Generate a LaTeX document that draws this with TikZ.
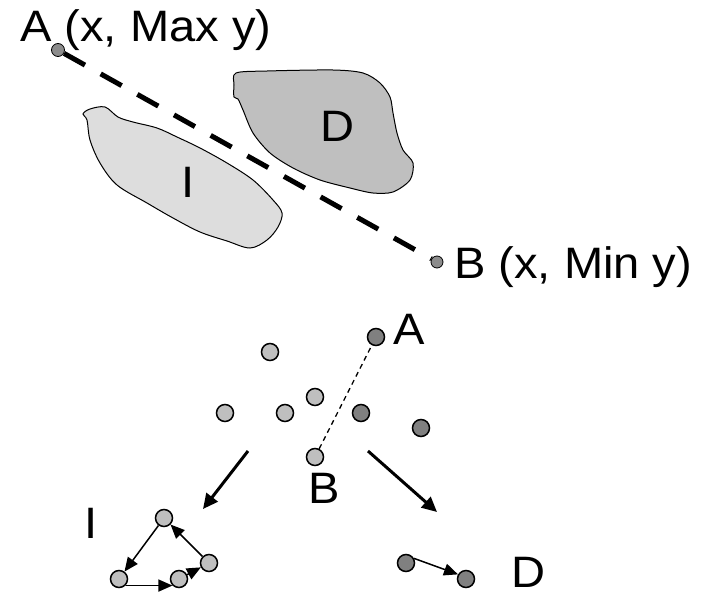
\documentclass[tikz,border=0pt]{standalone}
\usepackage{fontspec}
\setmainfont{Liberation Sans}
\usetikzlibrary{arrows.meta}

\begin{document}
\begin{tikzpicture}[x=1pt, y=-1pt,
    lbl/.style={font=\fontsize{44}{48}\selectfont, inner sep=0pt, xscale=1.07, anchor=base},
    enddot/.style={circle, draw, line width=0.8pt, fill=gray!90, inner sep=0pt, minimum size=13pt},
    dotlight/.style={circle, draw, line width=1.5pt, fill=gray!50, inner sep=0pt, minimum size=17pt},
    dotdark/.style={dotlight, fill=gray},
    smallarr/.style={-{Triangle[length=14pt,width=12pt]}, line width=1.5pt},
    bigarr/.style={-{Triangle[length=15pt,width=14pt]}, line width=3pt}]

    \useasboundingbox (0,0) rectangle (706,597);

    % Regions I and D
    \draw[fill=gray!27, line width=1pt] plot[smooth cycle, tension=0.55] coordinates {
        (83,114) (90,109) (105,107) (118,117) (133,122) (157,128) (177,137) (200,148)
        (227,163) (253,180) (273,200) (282,213) (278,227) (267,240) (250,248) (227,241)
        (200,232) (173,218) (147,203) (117,185) (100,163) (90,140) (87,120)};
    \node[lbl] (regI) at (188,197) {I};

    \draw[fill=gray!50, line width=1pt] plot[smooth cycle, tension=0.5] coordinates {
        (236,73) (267,71) (333,70) (363,73) (380,83) (390,97) (393,113) (397,133)
        (403,150) (413,163) (410,180) (393,192) (373,193) (350,188) (320,180) (293,168)
        (270,153) (253,133) (243,110) (238,99) (234,97) (234,85)};
    \node[lbl] (regD) at (337,141) {D};

    % End points of the line
    \node[enddot] (topA) at (58,50) {};
    \node[enddot, minimum size=12pt] (topB) at (437,262) {};
    \draw[dash pattern=on 24pt off 18pt, line width=5pt] (topA) -- (topB);

    \node[lbl, anchor=base west] (labA) at (20,41) {A (x, Max y)};
    \node[lbl, anchor=base west] (labB) at (454,278) {B (x, Min y)};

    % Points
    \node[dotdark] (pA) at (376,337) {};
    \node[dotlight] (p1) at (270,352) {};
    \node[dotlight] (p2) at (225,413) {};
    \node[dotlight] (p3) at (285,413) {};
    \node[dotlight] (p4) at (315,397) {};
    \node[dotdark] (p5) at (361,413) {};
    \node[dotdark] (p6) at (421,428) {};
    \node[dotlight] (pB) at (315,457) {};
    \draw[dash pattern=on 5pt off 4pt, line width=1.3pt] (pB) -- (pA);

    \node[lbl] (ptA) at (409,344) {A};
    \node[lbl] (ptB) at (324,503) {B};

    % Split into two groups
    \coordinate (lstart) at (248,451);
    \coordinate (lend) at (203,509);
    \coordinate (rstart) at (368,451);
    \coordinate (rend) at (437,512);
    \draw[bigarr] (lstart) -- (lend);
    \draw[bigarr] (rstart) -- (rend);

    % Group I: cycle
    \node[lbl] (grpI) at (91,538) {I};
    \node[dotlight] (cyc1) at (164,518) {};
    \node[dotlight] (cyc2) at (119,579) {};
    \node[dotlight] (cyc3) at (179,579) {};
    \node[dotlight] (cyc4) at (209,563) {};
    \draw[smallarr] (cyc1) -- (cyc2);
    \draw[smallarr] (cyc2.-45) -- (cyc3.-135);
    \draw[smallarr] (cyc3) -- (cyc4);
    \draw[smallarr] (cyc4) -- (cyc1);

    % Group D
    \node[dotdark] (dR1) at (406,563) {};
    \node[dotdark] (dR2) at (466,579) {};
    \draw[smallarr] (dR1.30) -- (dR2.150);
    \node[lbl] (grpD) at (528,587) {D};

\end{tikzpicture}
\end{document}
